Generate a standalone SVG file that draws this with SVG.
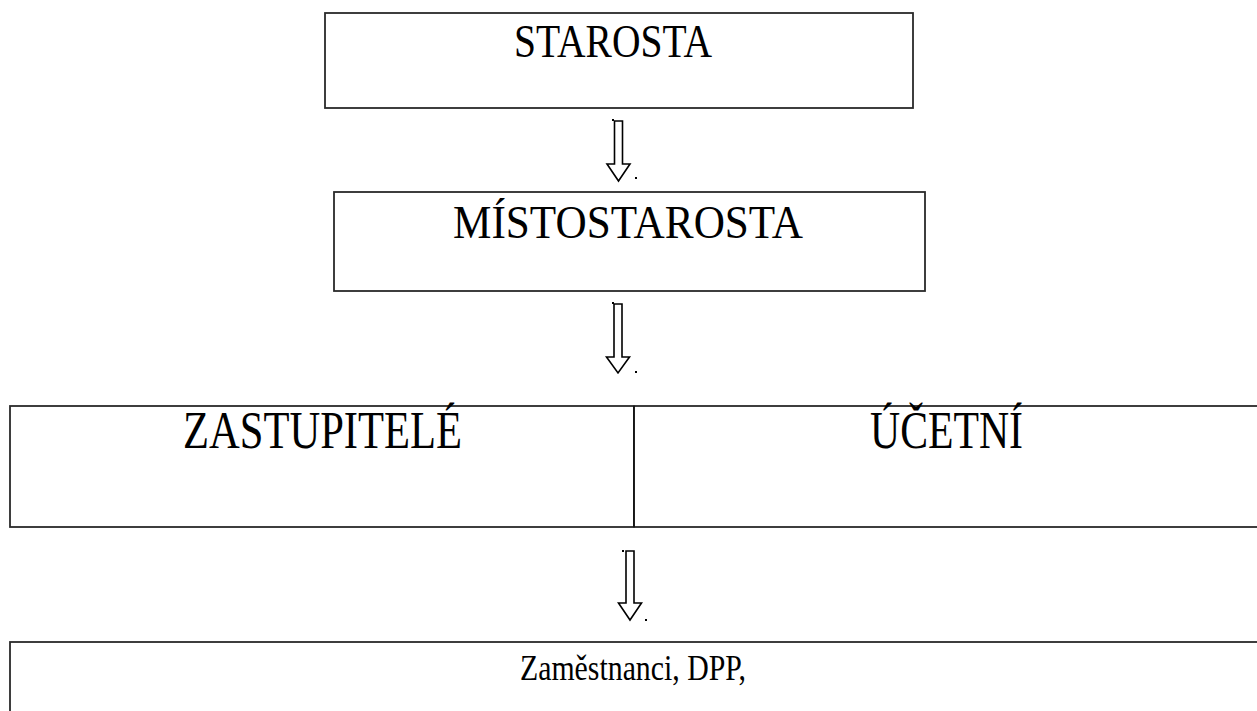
<svg xmlns="http://www.w3.org/2000/svg" width="1257" height="711" viewBox="0 0 1257 711">
<style>
.box{fill:#fff;stroke:#2a2a2a;stroke-width:1.8}
.t{font-family:"Liberation Serif","Times New Roman",serif;fill:#000;text-anchor:start}
.arr{fill:#fff;stroke:#000;stroke-width:1.6;stroke-linejoin:miter}
.dot{fill:#000}
</style>
<rect width="1257" height="711" fill="#fff"/>
<g id="starosta">
<rect class="box" x="325" y="13" width="588" height="95"/>
<text class="t" x="514" y="57" font-size="46" textLength="198" lengthAdjust="spacingAndGlyphs">STAROSTA</text>
</g>
<g id="mistostarosta">
<rect class="box" x="334" y="192" width="591" height="99"/>
<text class="t" x="453" y="238" font-size="47" textLength="350" lengthAdjust="spacingAndGlyphs">MÍSTOSTAROSTA</text>
</g>
<g id="zastupitele">
<rect class="box" x="10" y="406" width="624" height="121"/>
<text class="t" x="183" y="448" font-size="53" textLength="279" lengthAdjust="spacingAndGlyphs">ZASTUPITELÉ</text>
</g>
<g id="ucetni">
<rect class="box" x="634" y="406" width="640" height="121"/>
<line x1="634" y1="406" x2="634" y2="527" stroke="#000" stroke-width="1"/>
<text class="t" x="870" y="448" font-size="53" textLength="153" lengthAdjust="spacingAndGlyphs">ÚČETNÍ</text>
</g>
<g id="zamestnanci">
<rect class="box" x="10" y="642" width="1264" height="90"/>
<text class="t" x="520" y="680" font-size="35" textLength="226" lengthAdjust="spacingAndGlyphs">Zaměstnanci, DPP,</text>
</g>
<g id="connectors">
<polygon class="arr" points="614.5,121 622.5,121 622.5,164 630,164 618.5,181 607,164 614.5,164"/>
<rect class="dot" x="612" y="119" width="2" height="2"/>
<rect class="dot" x="635" y="177" width="2" height="2"/>
<polygon class="arr" points="614,304 622,304 622,357 629.5,357 618,373 606.5,357 614,357"/>
<rect class="dot" x="612" y="302" width="2" height="2"/>
<rect class="dot" x="635" y="371" width="2" height="2"/>
<polygon class="arr" points="626,551 634,551 634,603 641.5,603 630,620 618.5,603 626,603"/>
<rect class="dot" x="622" y="550" width="2" height="2"/>
<rect class="dot" x="645" y="619" width="2" height="2"/>
</g>
</svg>
